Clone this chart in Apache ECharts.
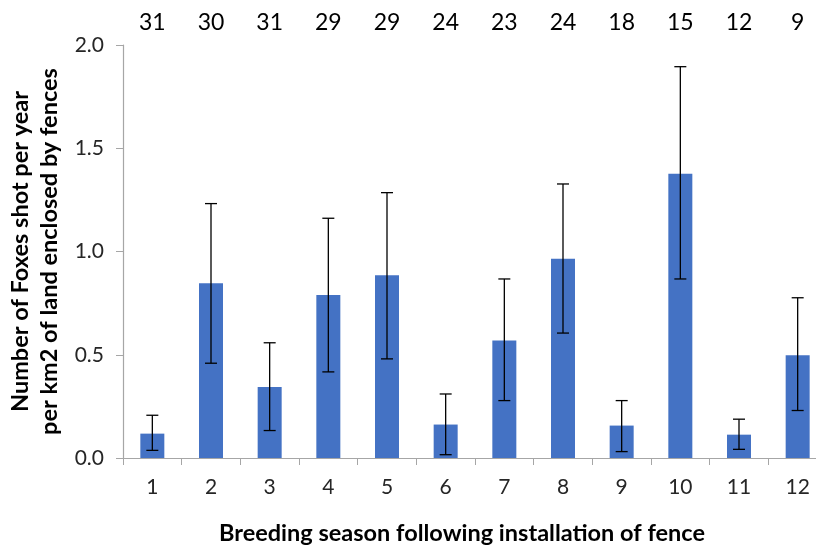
<!DOCTYPE html>
<html>
<head>
<meta charset="utf-8">
<script src="https://cdn.jsdelivr.net/npm/echarts@6/dist/echarts.min.js"></script>
<style>
  html, body { margin: 0; padding: 0; background: #fff; }
  #chart { width: 816px; height: 547px; }
</style>
</head>
<body>
<div id="chart"></div>
<script>
// breeding seasons after the fence went up
var seasons = ['1', '2', '3', '4', '5', '6', '7', '8', '9', '10', '11', '12'];
// sample size shown above each bar
var counts = ['31', '30', '31', '29', '29', '24', '23', '24', '18', '15', '12', '9'];
// mean foxes shot per year per km2
var means = [0.118, 0.846, 0.344, 0.789, 0.885, 0.162, 0.569, 0.965, 0.157, 1.377, 0.113, 0.498];
// error bar bounds
var errLow = [0.037, 0.459, 0.133, 0.417, 0.480, 0.016, 0.278, 0.605, 0.031, 0.867, 0.042, 0.230];
var errHigh = [0.207, 1.232, 0.558, 1.161, 1.285, 0.310, 0.867, 1.327, 0.278, 1.895, 0.188, 0.776];

var font = 'Lato, "Open Sans", sans-serif';

var chart = echarts.init(document.getElementById('chart'));

var errData = seasons.map(function (s, i) {
    return [i, errLow[i], errHigh[i]];
});

var option = {
    animation: false,
    // plot runs a little past the right edge, as in the original
    grid: { left: 123, width: 704, top: 45, bottom: 89, outerBoundsMode: 'none' },
    xAxis: [
        {
            type: 'category',
            data: seasons,
            position: 'bottom',
            axisLine: { lineStyle: { color: '#a6a6a6', width: 1.2 } },
            axisTick: { show: true, length: 7, interval: 0, lineStyle: { color: '#a6a6a6' } },
            axisLabel: { color: '#262626', fontSize: 21, fontFamily: font, margin: 19 }
        },
        {
            type: 'category',
            data: counts,
            position: 'top',
            axisLine: { show: false },
            axisTick: { show: false },
            axisLabel: { color: '#000', fontSize: 23, fontFamily: font, margin: 11 }
        }
    ],
    yAxis: {
        type: 'value',
        min: 0,
        max: 2,
        interval: 0.5,
        name: 'Number of Foxes shot per year\nper km2 of land enclosed by fences',
        nameLocation: 'middle',
        nameGap: 55,
        nameTextStyle: { color: '#000', fontSize: 23.5, fontWeight: 'bold', fontFamily: font, lineHeight: 29 },
        axisLine: { show: true, lineStyle: { color: '#a6a6a6', width: 1.2 } },
        axisTick: { show: true, length: 7, lineStyle: { color: '#a6a6a6' } },
        splitLine: { show: false },
        axisLabel: {
            color: '#262626', fontSize: 21, fontFamily: font, margin: 19,
            formatter: function (v) { return v.toFixed(1); }
        }
    },
    graphic: [{
        type: 'text',
        x: 462,
        y: 521,
        style: {
            text: 'Breeding season following installation of fence',
            fill: '#000',
            font: 'bold 23.5px ' + font,
            textAlign: 'center'
        }
    }],
    series: [
        {
            type: 'bar',
            data: means,
            barWidth: 24,
            itemStyle: { color: '#4472c4' }
        },
        {
            type: 'custom',
            data: errData,
            z: 10,
            renderItem: function (params, api) {
                var x = api.value(0);
                var lo = api.coord([x, api.value(1)]);
                var hi = api.coord([x, api.value(2)]);
                var hw = 6;
                var st = { stroke: '#000', lineWidth: 1.3 };
                return {
                    type: 'group',
                    children: [
                        { type: 'line', shape: { x1: lo[0], y1: lo[1], x2: hi[0], y2: hi[1] }, style: st },
                        { type: 'line', shape: { x1: hi[0] - hw, y1: hi[1], x2: hi[0] + hw, y2: hi[1] }, style: st },
                        { type: 'line', shape: { x1: lo[0] - hw, y1: lo[1], x2: lo[0] + hw, y2: lo[1] }, style: st }
                    ]
                };
            }
        }
    ]
};

chart.setOption(option);
</script>
</body>
</html>
